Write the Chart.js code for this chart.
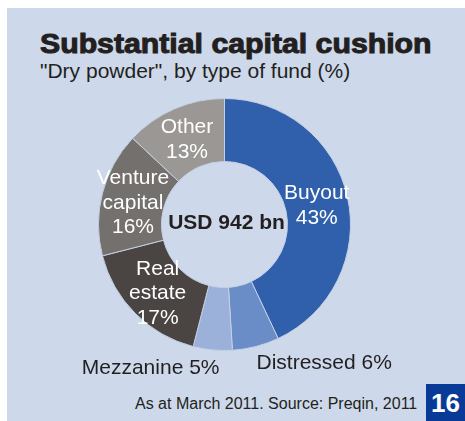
<!DOCTYPE html>
<html>
<head>
<meta charset="utf-8">
<script src="https://cdn.jsdelivr.net/npm/chart.js@4/dist/chart.umd.min.js"></script>
<style>
  html, body { margin: 0; padding: 0; background: #fff; }
  body { width: 465px; height: 421px; position: relative; overflow: hidden; font-family: "Liberation Sans", Arial, sans-serif; }
  .panel { position: absolute; left: 7px; top: 8px; right: 0; bottom: 0; background: #cdd8ea; }
  .title { position: absolute; left: 40px; top: 29px; font-size: 27px; font-weight: bold; color: #231f20; -webkit-text-stroke: 1px #231f20; white-space: nowrap; transform: scaleX(1.12); transform-origin: 0 0; }
  .sub { position: absolute; left: 40px; top: 59px; font-size: 21px; color: #231f20; white-space: nowrap; }
  .note { position: absolute; left: 135px; top: 395px; font-size: 16px; color: #231f20; white-space: nowrap; }
  .page { position: absolute; left: 426px; top: 384px; width: 39px; height: 37px; background: #0a3a97; color: #fff; font-weight: bold; font-size: 26px; text-align: center; line-height: 38px; }
  #chartBox { position: absolute; left: 0; top: 0; width: 465px; height: 421px; }
</style>
</head>
<body>
<div class="panel"></div>
<div class="title">Substantial capital cushion</div>
<div class="sub">"Dry powder", by type of fund (%)</div>
<div class="note">As at March 2011. Source: Preqin, 2011</div>
<div class="page">16</div>
<div id="chartBox"><canvas id="chart"></canvas></div>
<script>
// ---- data ----
const funds  = ["Buyout", "Distressed", "Mezzanine", "Real estate", "Venture capital", "Other"];
const shares = [43, 6, 5, 17, 16, 13];
const labelLines = [["Buyout", "43%"], ["Distressed 6%"], ["Mezzanine 5%"], ["Real", "estate", "17%"], ["Venture", "capital", "16%"], ["Other", "13%"]];
const totalText = "USD 942 bn";

// ---- style ----
const colors = ["#3060ac", "#6a8cc7", "#9cb1da", "#4a4442", "#73706e", "#9a9794"];
const outside = [false, true, true, false, false, false];

// labels: inside ones at the arc middle, small ones under the ring
const sliceLabels = {
  id: 'sliceLabels',
  afterDatasetsDraw(chart) {
    const ctx = chart.ctx;
    const arcs = chart.getDatasetMeta(0).data;
    ctx.save();
    ctx.textBaseline = 'middle';
    arcs.forEach((arc, i) => {
      const lines = labelLines[i];
      if (outside[i]) {
        ctx.fillStyle = '#231f20';
        ctx.font = '21px "Liberation Sans", Arial, sans-serif';
        const y = arc.y + arc.outerRadius + 16;
        if (i === 1) { ctx.textAlign = 'left';  ctx.fillText(lines[0], arc.x + 32, y - 3); }
        else         { ctx.textAlign = 'right'; ctx.fillText(lines[0], arc.x - 5, y + 2); }
        return;
      }
      const p = arc.tooltipPosition();
      ctx.fillStyle = '#fff';
      ctx.textAlign = 'center';
      ctx.font = '21px "Liberation Sans", Arial, sans-serif';
      const lh = 24.5;
      lines.forEach((t, k) => ctx.fillText(t, p.x, p.y + (k - (lines.length - 1) / 2) * lh + 2));
    });
    const a = arcs[0];
    ctx.fillStyle = '#231f20';
    ctx.textAlign = 'center';
    ctx.font = 'bold 21px "Liberation Sans", Arial, sans-serif';
    ctx.fillText(totalText, a.x + 2, a.y - 1);
    ctx.restore();
  }
};

new Chart(document.getElementById('chart'), {
  type: 'doughnut',
  data: {
    labels: funds,
    datasets: [{
      data: shares,
      backgroundColor: colors,
      borderColor: '#c3cfe4',
      borderWidth: 1
    }]
  },
  options: {
    responsive: true,
    maintainAspectRatio: false,
    animation: false,
    cutout: '50%',
    layout: { padding: { left: 98, right: 114, top: 98, bottom: 70 } },
    plugins: { legend: { display: false }, tooltip: { enabled: false } }
  },
  plugins: [sliceLabels]
});
</script>
</body>
</html>
